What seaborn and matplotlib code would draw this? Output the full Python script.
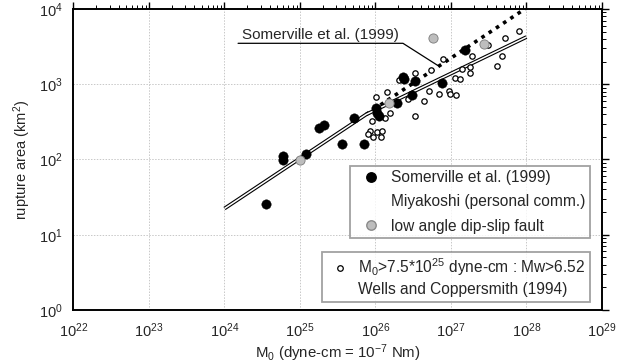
import matplotlib
matplotlib.use("Agg")
import matplotlib.pyplot as plt
from matplotlib.lines import Line2D
from matplotlib.ticker import LogLocator, NullFormatter
import numpy as np
import pandas as pd
import seaborn as sns

sns.set_style("white")
plt.rcParams["font.family"] = ["Liberation Sans", "DejaVu Sans"]
plt.rcParams["mathtext.fontset"] = "custom"
plt.rcParams["mathtext.rm"] = "Liberation Sans"
plt.rcParams["mathtext.it"] = "Liberation Sans:italic"

# Somerville et al. (1999) events: log10 M0 (dyne-cm), log10 area (km^2)
somerville_logm = [24.55, 24.78, 24.78, 25.075, 25.25, 25.32, 25.55, 25.71, 25.85,
                   26.007, 26.016, 26.04, 26.29, 26.37, 26.38, 26.52, 26.48, 26.88, 27.19]
somerville_loga = [1.406, 2.048, 1.995, 2.074, 2.42, 2.464, 2.203, 2.553, 2.203,
                   2.682, 2.624, 2.58, 2.748, 3.10, 3.07, 3.04, 2.855, 3.014, 3.457]

# low angle dip-slip faults
lowangle_logm = [25.004, 26.18, 26.76, 27.44]
lowangle_loga = [1.995, 2.748, 3.62, 3.53]

# Wells and Coppersmith (1994), M0 > 7.5e25 dyne-cm
wells_logm = [26.007, 26.148, 26.19, 26.12, 25.96, 25.93, 25.90, 26.016, 26.09, 25.97,
              26.07, 26.315, 26.52, 26.52, 26.64, 26.71, 26.74, 26.845, 26.90, 26.98,
              26.99, 27.06, 27.05, 27.12, 27.14, 27.25, 27.255, 27.28, 27.49, 27.605,
              27.67, 27.715, 27.905, 26.43]
wells_loga = [2.828, 2.899, 2.615, 2.549, 2.509, 2.376, 2.34, 2.367, 2.376, 2.297,
              2.297, 3.05, 3.156, 2.58, 2.775, 2.908, 3.19, 2.868, 3.334, 2.916,
              2.872, 2.863, 3.085, 3.076, 3.209, 3.227, 3.156, 3.373, 3.52, 3.245,
              3.373, 3.617, 3.71, 2.80]

# Scaling relations (knots of the piecewise lines)
bilinear_m = [1e24, 7.5e25, 1e28]
bilinear_a = [22.3, 396.0, 4240.0]
selfsimilar_m = [7.5e25, 1e28]
selfsimilar_a = [396.0, 10350.0]

x_ticks = [10.0**k for k in range(22, 30)]
y_ticks = [10.0**k for k in range(0, 5)]

df_s = pd.DataFrame({"M0": np.power(10.0, somerville_logm), "A": np.power(10.0, somerville_loga)})
df_l = pd.DataFrame({"M0": np.power(10.0, lowangle_logm), "A": np.power(10.0, lowangle_loga)})
df_w = pd.DataFrame({"M0": np.power(10.0, wells_logm), "A": np.power(10.0, wells_loga)})

fig = plt.figure(figsize=(6.27, 3.64), dpi=100)
ax = fig.add_axes([0.1172, 0.1484, 0.8429, 0.8269])
ax.set_xscale("log")
ax.set_yscale("log")

ax.grid(True, which="major", color="#c8c8c8", linestyle=(0, (1.5, 1.5)), linewidth=0.7)
ax.set_axisbelow(True)

# double line for the bilinear relation
ax.plot(bilinear_m, bilinear_a, color="black", lw=2.7, solid_capstyle="butt", zorder=3)
ax.plot(bilinear_m, bilinear_a, color="white", lw=1.1, solid_capstyle="butt", zorder=3.1)
# dotted extension of the self-similar relation
ax.plot(selfsimilar_m, selfsimilar_a, color="black", lw=2.6, linestyle=(0, (1, 1.4)), zorder=3)

sns.scatterplot(data=df_w, x="M0", y="A", ax=ax, s=15, marker="o", facecolor="white",
                edgecolor="black", linewidth=0.9, zorder=4, legend=False)
sns.scatterplot(data=df_s, x="M0", y="A", ax=ax, s=46, marker="o", color="black",
                edgecolor="black", linewidth=0.3, zorder=5, legend=False)
sns.scatterplot(data=df_l, x="M0", y="A", ax=ax, s=44, marker="o", color="#bdbdbd",
                edgecolor="#7a7a7a", linewidth=0.6, zorder=5, legend=False)

# callout for the Somerville relation
ax.plot([10**24.18, 10**26.364, 10**26.84], [10**3.544, 10**3.544, 10**3.24],
        color="black", lw=0.9, zorder=6)
ax.text(10**24.23, 10**3.565, "Somerville et al. (1999)", fontsize=11, ha="left", va="bottom",
        zorder=6)

ax.set_xlabel(r"M$_0$ (dyne-cm = 10$^{-7}$ Nm)", fontsize=10.8, labelpad=2)
ax.set_ylabel(r"rupture area (km$^2$)", fontsize=10.5, labelpad=4)

ax.set_xticks(x_ticks)
ax.set_yticks(y_ticks)
ax.xaxis.set_minor_locator(LogLocator(base=10, subs=np.arange(2, 10), numticks=100))
ax.yaxis.set_minor_locator(LogLocator(base=10, subs=np.arange(2, 10), numticks=100))
ax.xaxis.set_minor_formatter(NullFormatter())
ax.yaxis.set_minor_formatter(NullFormatter())
ax.set_xlim(1e22, 1e29)
ax.set_ylim(1e0, 1e4)
ax.tick_params(which="both", direction="out", top=True, right=True, color="black")
ax.tick_params(which="major", length=5, width=1.0, labelsize=10.5, pad=3)
ax.tick_params(which="minor", length=3, width=0.7)
for sp in ax.spines.values():
    sp.set_color("black")
    sp.set_linewidth(1.4)

leg_kw = dict(frameon=True, fancybox=False, fontsize=11.2, handletextpad=0.25,
              borderaxespad=0.0, edgecolor="#8a8a8a")
h1 = [Line2D([], [], marker="o", ls="none", markersize=6.8, markerfacecolor="black",
             markeredgecolor="black"),
      Line2D([], [], ls="none", marker=None),
      Line2D([], [], marker="o", ls="none", markersize=6.8, markerfacecolor="#bdbdbd",
             markeredgecolor="#8a8a8a")]
leg1 = ax.legend(h1, ["Somerville et al. (1999)", "Miyakoshi (personal comm.)",
                      "low angle dip-slip fault"],
                 loc="upper right", bbox_to_anchor=(0.977, 0.478), labelspacing=0.58,
                 borderpad=0.28, handlelength=2.1, **leg_kw)
leg1.get_frame().set_linewidth(1.3)
ax.add_artist(leg1)
h2 = [Line2D([], [], marker="o", ls="none", markersize=4, markerfacecolor="white",
             markeredgecolor="black", markeredgewidth=0.9),
      Line2D([], [], ls="none", marker=None)]
leg2 = ax.legend(h2, [r"M$_0$>7.5*10$^{25}$ dyne-cm : Mw>6.52", "Wells and Coppersmith (1994)"],
                 loc="lower right", bbox_to_anchor=(0.977, 0.027), labelspacing=0.25,
                 borderpad=0.3, handlelength=1.75, **leg_kw)
leg2.get_frame().set_linewidth(1.3)

fig.savefig("out.png", dpi=100)
